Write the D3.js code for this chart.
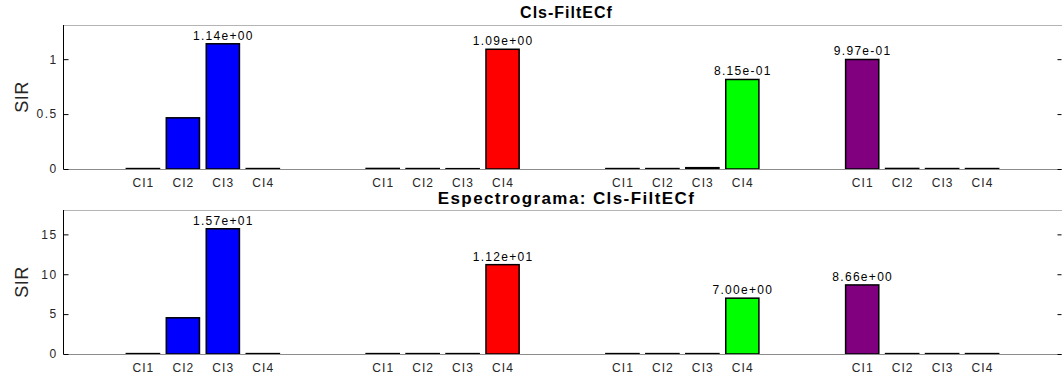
<!DOCTYPE html>
<html><head><meta charset="utf-8">
<script src="https://cdn.jsdelivr.net/npm/d3@7"></script>
<style>body{margin:0;background:#fff}svg{display:block}text{font-family:"Liberation Sans",Arial,sans-serif}</style>
</head><body><svg id="c" width="1062" height="377"></svg>
<script>
const categories = ["CI1","CI2","CI3","CI4"];
const groupColors = ["#0000ff","#ff0000","#00ff00","#800080"];
const slots = [0,1,2,3, 6,7,8,9, 12,13,14,15, 18,19,20,21];
const sirTop = [0.004,0.466,1.14,0.004, 0.005,0.004,0.003,1.09, 0.004,0.004,0.012,0.815, 0.997,0.005,0.004,0.004];
const sirBottom = [0.05,4.54,15.7,0.05, 0.05,0.05,0.05,11.2, 0.05,0.05,0.05,7.0, 8.66,0.05,0.05,0.05];
const labelsTop = ["1.14e+00","1.09e+00","8.15e-01","9.97e-01"];
const labelsBottom = ["1.57e+01","1.12e+01","7.00e+00","8.66e+00"];
const peakIndex = [2,7,11,12];
const ticksTop = [0,0.5,1];
const ticksBottom = [0,5,10,15];
const titles = ["Cls-FiltECf","Espectrograma: Cls-FiltECf"];

const svg = d3.select("#c");
const x = d3.scaleLinear().domain([-2,23]).range([63,1062]);
const bw = x(0.83)-x(0);

function panel(vals, labels, ticks, ymax, top, bottom, title, titleSize, titleLs, titleDy){
  const y = d3.scaleLinear().domain([0,ymax]).range([bottom,top]);
  const g = svg.append("g");
  g.append("line").attr("x1",63).attr("x2",1062).attr("y1",top+0.5).attr("y2",top+0.5).attr("stroke","#b4b4b4");
  g.selectAll("rect.b").data(vals).join("rect")
    .attr("x",(d,i)=>x(slots[i])-bw/2).attr("width",bw)
    .attr("y",d=>y(d)).attr("height",d=>Math.max(0,y(0)-y(d)))
    .attr("fill",(d,i)=>groupColors[Math.floor(i/4)])
    .attr("stroke","#000").attr("stroke-width",1.5);
  g.append("line").attr("x1",63).attr("x2",1062).attr("y1",y(0)+0.5).attr("y2",y(0)+0.5).attr("stroke","#8c8c8c").attr("stroke-width",1.2);
  const ax = d3.axisLeft(y).tickValues(ticks).tickSize(-5).tickPadding(6).tickFormat(d3.format("~g"));
  const ag = g.append("g").attr("transform","translate(63.5,0)").call(ax);
  ag.select(".domain").attr("d",`M0,${top}V${bottom}`).attr("stroke","#000");
  ag.selectAll("text").attr("font-size",12).attr("letter-spacing",1.4).attr("fill","#262626").attr("font-family","Liberation Sans, Arial, sans-serif");
  ag.selectAll(".tick line").attr("stroke","#000");
  const rg = g.append("g").attr("transform","translate(1061.5,0)").call(d3.axisRight(y).tickValues(ticks).tickSize(-4).tickFormat(""));
  rg.select(".domain").remove();
  g.selectAll("text.xl").data(slots).join("text").attr("class","xl")
    .attr("x",d=>x(d)+0.5).attr("y",bottom+17.5).attr("text-anchor","middle")
    .attr("font-size",12).attr("letter-spacing",1.1).attr("fill","#262626").text((d,i)=>categories[i%4]);
  g.selectAll("text.vl").data(peakIndex).join("text").attr("class","vl")
    .attr("x",d=>x(slots[d])+0.5).attr("y",d=>y(vals[d])-4).attr("text-anchor","middle")
    .attr("font-size",12).attr("letter-spacing",1.3).attr("fill","#000").text((d,i)=>labels[i]);
  g.append("text").attr("transform",`translate(28,${(top+bottom)/2}) rotate(-90)`)
    .attr("text-anchor","middle").attr("font-size",18).attr("letter-spacing",0.5).attr("fill","#262626").text("SIR");
  g.append("text").attr("x",(63+1062)/2+4).attr("y",top-titleDy).attr("text-anchor","middle")
    .attr("font-size",titleSize).attr("letter-spacing",titleLs).attr("font-weight","bold").attr("fill","#000").text(title);
}
panel(sirTop, labelsTop, ticksTop, 1.14*1.15, 25, 169, titles[0], 16, 1, 7);
panel(sirBottom, labelsBottom, ticksBottom, 15.7*1.15, 210, 354, titles[1], 17, 1.4, 6);
</script></body></html>
